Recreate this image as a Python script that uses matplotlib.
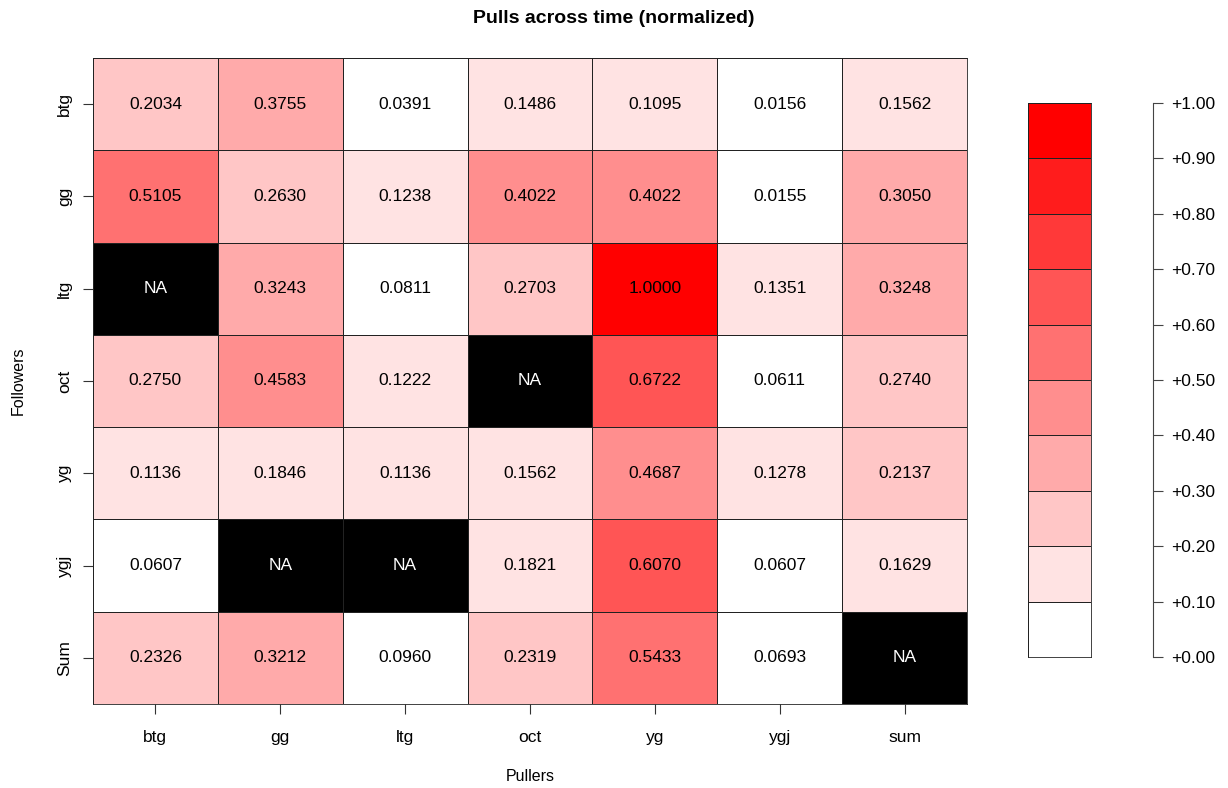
import numpy as np
import matplotlib
matplotlib.use("Agg")
import matplotlib.pyplot as plt
from matplotlib.colors import ListedColormap, BoundaryNorm

plt.rcParams['font.family'] = ['Liberation Sans', 'DejaVu Sans']

followers = ["btg", "gg", "ltg", "oct", "yg", "ygj", "Sum"]
pullers = ["btg", "gg", "ltg", "oct", "yg", "ygj", "sum"]
NA = np.nan
pulls = np.array([
    [0.2034, 0.3755, 0.0391, 0.1486, 0.1095, 0.0156, 0.1562],
    [0.5105, 0.2630, 0.1238, 0.4022, 0.4022, 0.0155, 0.3050],
    [NA,     0.3243, 0.0811, 0.2703, 1.0000, 0.1351, 0.3248],
    [0.2750, 0.4583, 0.1222, NA,     0.6722, 0.0611, 0.2740],
    [0.1136, 0.1846, 0.1136, 0.1562, 0.4687, 0.1278, 0.2137],
    [0.0607, NA,     NA,     0.1821, 0.6070, 0.0607, 0.1629],
    [0.2326, 0.3212, 0.0960, 0.2319, 0.5433, 0.0693, NA],
])
levels = np.linspace(0, 1, 11)

# white -> red in 10 steps
k = np.linspace(0, 1, 10)
cols = [(1.0, 1 - t, 1 - t) for t in k]
cmap = ListedColormap(cols)
cmap.set_bad("black")
norm = BoundaryNorm(levels, cmap.N)

fig = plt.figure(figsize=(12.28, 7.88), dpi=100)
ax = fig.add_axes([0.0757, 0.1066, 0.7118, 0.8198])
nr, nc = pulls.shape
ax.pcolormesh(np.arange(nc + 1), np.arange(nr + 1), np.ma.masked_invalid(pulls),
              cmap=cmap, norm=norm, edgecolors="#222222", linewidth=0.6)
ax.set_xlim(0, nc)
ax.set_ylim(nr, 0)
for i in range(nr):
    for j in range(nc):
        v = pulls[i, j]
        if np.isnan(v):
            ax.text(j + 0.5, i + 0.5, "NA", ha="center", va="center", color="white", fontsize=12.5)
        else:
            ax.text(j + 0.5, i + 0.5, "%.4f" % v, ha="center", va="center", color="black", fontsize=12.5)
ax.set_xticks(np.arange(nc) + 0.5)
ax.set_xticklabels(pullers, fontsize=12.5)
ax.set_yticks(np.arange(nr) + 0.5)
ax.set_yticklabels(followers, fontsize=12.5, rotation=90, va="center")
ax.tick_params(direction="out", length=7, width=0.8, color="#333333", pad=12)
ax.tick_params(axis="y", pad=8)
for s in ax.spines.values():
    s.set_color("#222222")
    s.set_linewidth(0.6)

fig.text(0.5, 0.977, "Pulls across time (normalized)", ha="center", va="center",
         fontsize=14, fontweight="bold")
fig.text(0.4316, 0.015, "Pullers", ha="center", va="center", fontsize=11.5)
fig.text(0.015, 0.5165, "Followers", ha="center", va="center", fontsize=11.5, rotation=90)

# colour key
cax = fig.add_axes([0.8371, 0.1662, 0.0513, 0.7030])
cax.pcolormesh([0, 1], levels, (levels[:-1] + 0.05).reshape(-1, 1), cmap=cmap, norm=norm,
               edgecolors="#222222", linewidth=0.6)
cax.set_xlim(0, 1)
cax.set_ylim(0, 1)
cax.set_xticks([])
cax.set_yticks([])
for s in cax.spines.values():
    s.set_color("#222222")
    s.set_linewidth(0.6)

sax = fig.add_axes([0.9365, 0.1662, 0.0024, 0.7030])
sax.set_ylim(0, 1)
sax.set_xticks([])
for side in ["left", "top", "bottom"]:
    sax.spines[side].set_visible(False)
sax.spines["right"].set_color("#444444")
sax.spines["right"].set_linewidth(0.8)
sax.yaxis.tick_right()
sax.set_yticks(levels)
sax.set_yticklabels(["+%.2f" % v for v in levels], fontsize=12.5)
sax.tick_params(axis="y", direction="out", length=7, width=0.8, color="#444444", pad=6)
sax.patch.set_visible(False)

fig.savefig("out.png", dpi=100)
